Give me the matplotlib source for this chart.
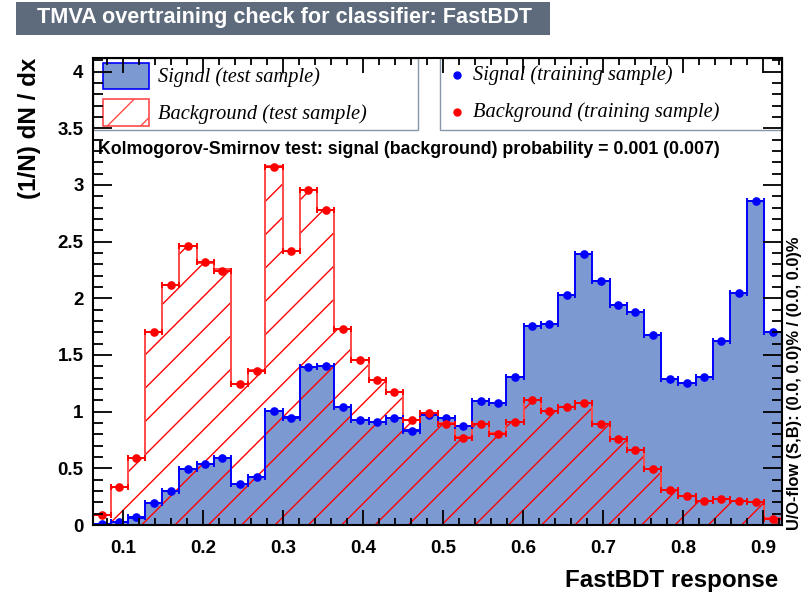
import numpy as np
import matplotlib
matplotlib.use("Agg")
import matplotlib.pyplot as plt
from matplotlib.patches import Rectangle

# FastBDT response histograms, 40 bins, normalised to unit area
lo, hi, nbins = 0.0625, 0.923, 40

sig_test = [0.01, 0.03, 0.06, 0.19, 0.30, 0.495, 0.535, 0.595, 0.36, 0.42,
            1.01, 0.95, 1.395, 1.405, 1.045, 0.925, 0.91, 0.94, 0.835, 0.97,
            0.94, 0.875, 1.09, 1.08, 1.31, 1.76, 1.77, 2.025, 2.395, 2.15,
            1.94, 1.875, 1.68, 1.285, 1.25, 1.305, 1.625, 2.05, 2.855, 1.70]
sig_train = [0.01, 0.03, 0.07, 0.19, 0.30, 0.495, 0.535, 0.595, 0.36, 0.42,
             1.005, 0.948, 1.395, 1.405, 1.045, 0.925, 0.91, 0.94, 0.83, 0.97,
             0.94, 0.875, 1.09, 1.078, 1.31, 1.76, 1.77, 2.025, 2.395, 2.15,
             1.94, 1.875, 1.68, 1.285, 1.25, 1.305, 1.625, 2.05, 2.855, 1.70]
bkg_test = [0.09, 0.335, 0.595, 1.70, 2.12, 2.46, 2.315, 2.255, 1.24, 1.365,
            3.17, 2.415, 2.955, 2.775, 1.725, 1.455, 1.275, 1.17, 0.93, 0.985,
            0.90, 0.775, 0.89, 0.81, 0.905, 1.10, 1.01, 1.04, 1.075, 0.895,
            0.755, 0.66, 0.49, 0.31, 0.255, 0.215, 0.225, 0.215, 0.20, 0.06]
bkg_train = [0.09, 0.335, 0.595, 1.70, 2.12, 2.46, 2.32, 2.24, 1.24, 1.355,
             3.16, 2.415, 2.955, 2.775, 1.725, 1.455, 1.275, 1.17, 0.93, 0.985,
             0.895, 0.77, 0.89, 0.805, 0.905, 1.10, 1.01, 1.04, 1.075, 0.895,
             0.755, 0.66, 0.49, 0.31, 0.255, 0.215, 0.225, 0.215, 0.20, 0.055]

ks_text = "Kolmogorov-Smirnov test: signal (background) probability = 0.001 (0.007)"
uo_text = "U/O-flow (S,B): (0.0, 0.0)% / (0.0, 0.0)%"

edges = np.linspace(lo, hi, nbins + 1)
centers = 0.5 * (edges[:-1] + edges[1:])
bw = edges[1] - edges[0]

SANS = "Liberation Sans"
SERIF = "Liberation Serif"
SIG_FILL = "#7d99d1"
FRAME_GREY = "#8796a8"

plt.rcParams["hatch.linewidth"] = 1.0

W, H = 806, 599
fig = plt.figure(figsize=(W / 100, H / 100), dpi=100)
fig.patch.set_facecolor("white")

# frame in pixel coordinates
L, R, T, B = 93.3, 781.7, 58.0, 525.0
ax = fig.add_axes([L / W, 1 - B / H, (R - L) / W, (B - T) / H])


def axc(px, py):
    return (px - L) / (R - L), (B - py) / (B - T)


# test samples: filled signal, hatched background
ax.stairs(sig_test, edges, fill=True, color=SIG_FILL, linewidth=0, zorder=1)
ax.stairs(bkg_test, edges, fill=True, facecolor="none", edgecolor="red",
          hatch="/", linewidth=0, zorder=1.1)
ax.stairs(sig_test, edges, color="blue", linewidth=1.4, zorder=1.3)
ax.stairs(bkg_test, edges, color="#ff4a4a", linewidth=1.4, zorder=1.3)

# training samples as points with bin-width error bars
ax.errorbar(centers, sig_train, xerr=bw / 2, fmt="o", color="blue",
            markersize=5.2, elinewidth=1.4, capsize=2.5, capthick=1.4, zorder=2)
ax.errorbar(centers, bkg_train, xerr=bw / 2, fmt="o", color="red",
            markersize=5.2, elinewidth=1.4, capsize=2.5, capthick=1.4, zorder=2)

ax.set_xlim(lo, hi)
ax.set_ylim(0, 4.12)
ax.set_xticks(np.arange(0.1, 0.91, 0.1))
ax.set_xticks(np.arange(0.08, 0.921, 0.02), minor=True)
ax.set_yticks(np.arange(0, 4.01, 0.5))
ax.set_yticks(np.arange(0, 4.11, 0.1), minor=True)
ax.set_xticklabels([f"{v:g}" for v in np.arange(0.1, 0.91, 0.1).round(1)])
ax.set_yticklabels([f"{v:g}" for v in np.arange(0, 4.01, 0.5)])
ax.tick_params(axis="both", which="both", direction="in", top=True, right=True,
               width=1.3, color="black")
ax.tick_params(axis="y", which="major", length=13.5, pad=7)
ax.tick_params(axis="y", which="minor", length=7)
ax.tick_params(axis="x", which="major", length=10.5, pad=11)
ax.tick_params(axis="x", which="minor", length=5.3)
for lab in ax.get_xticklabels() + ax.get_yticklabels():
    lab.set_fontfamily(SANS)
    lab.set_fontweight("bold")
    lab.set_fontsize(13.5)
for sp in ax.spines.values():
    sp.set_linewidth(1.5)
ax.set_axisbelow(False)

# legend boxes
for x0, x1 in [(L, 418), (440, R)]:
    bx, by = axc(x0, 130)
    bx1, by1 = axc(x1, T)
    ax.add_patch(Rectangle((bx, by), bx1 - bx, by1 - by, transform=ax.transAxes,
                           facecolor="white", edgecolor=FRAME_GREY, linewidth=1.0,
                           clip_on=False, zorder=2.2))

sx, sy = axc(103, 89)
sx1, sy1 = axc(149, 63)
ax.add_patch(Rectangle((sx, sy), sx1 - sx, sy1 - sy, transform=ax.transAxes,
                       facecolor=SIG_FILL, edgecolor="blue", linewidth=1.2,
                       clip_on=False, zorder=2.3))
sx, sy = axc(103, 126)
sx1, sy1 = axc(149, 99)
ax.add_patch(Rectangle((sx, sy), sx1 - sx, sy1 - sy, transform=ax.transAxes,
                       facecolor="white", edgecolor="#ff4a4a", hatch="/",
                       linewidth=1.2, clip_on=False, zorder=2.3))

legend_txt = dict(transform=ax.transAxes, fontfamily=SERIF, fontstyle="italic",
                  fontsize=14.7, va="center", ha="left", zorder=3)
ax.text(*axc(158, 77), "Signal (test sample)", **legend_txt)
ax.text(*axc(158, 114), "Background (test sample)", **legend_txt)
ax.text(*axc(473, 75), "Signal (training sample)", **legend_txt)
ax.text(*axc(473, 112), "Background (training sample)", **legend_txt)
for py, c in [(75, "blue"), (112, "red")]:
    ax.plot(*axc(457, py), "o", color=c, markersize=5, transform=ax.transAxes,
            clip_on=False, zorder=2.4)

ax.text(*axc(98, 149), ks_text, transform=ax.transAxes, fontfamily=SANS,
        fontweight="bold", fontsize=12.8, va="center", ha="left", zorder=3)

# axis titles and side note
fig.text(778 / W, 1 - 580 / H, "FastBDT response", fontfamily=SANS,
         fontweight="bold", fontsize=17.4, ha="right", va="center")
fig.text(30 / W, 1 - 58 / H, "(1/N) dN / dx", fontfamily=SANS,
         fontweight="bold", fontsize=17.4, rotation=90, ha="center", va="top")
fig.text(795 / W, 1 - 530 / H, uo_text, fontfamily=SANS, fontweight="bold",
         fontsize=11.8, rotation=90, ha="center", va="bottom")

# title in a dark banner
title = fig.text(37 / W, 1 - 17 / H, "TMVA overtraining check for classifier: FastBDT",
                 fontfamily=SANS, fontweight="bold", fontsize=15.6, color="white",
                 ha="left", va="center", zorder=3)
fig.canvas.draw()
ext = title.get_window_extent()
fig.patches.append(Rectangle((16 / W, 1 - 35 / H), (ext.x1 + 18 - 16) / W, 33 / H,
                             transform=fig.transFigure, facecolor="#5e6b7d",
                             edgecolor="none", zorder=1))

fig.savefig("out.png", dpi=100)
